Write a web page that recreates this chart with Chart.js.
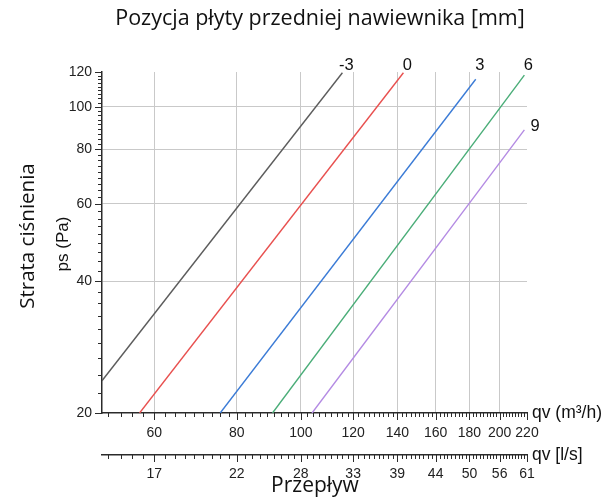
<!DOCTYPE html>
<html lang="pl">
<head>
  <meta charset="UTF-8">
  <title>Pozycja płyty przedniej nawiewnika</title>
  <script src="https://cdn.jsdelivr.net/npm/chart.js"></script>
  <style>
    body { margin: 0; background: #fff; }
  </style>
</head>
<body>
  <canvas id="chart" width="610" height="500"></canvas>

  <script>
    // plate positions [mm] and the end points of each characteristic (log-log straight lines)
    const positions = ['-3', '0', '3', '6', '9'];
    const qvStart = [50, 57, 75.5, 90.6, 104];
    const psStart = [23.7, 20, 20, 20, 20];
    const qvEnd = [115.6, 143, 184, 218, 218];
    const psEnd = [119.5, 119.5, 115.5, 118, 88.5];
    const lineColors = ['#5c5c5c', '#e8504f', '#3b7bd6', '#4aad78', '#b48be3'];

    // axis ticks
    const qvMajor = [60, 80, 100, 120, 140, 160, 180, 200, 220];
    const qvLabels = ['60', '80', '100', '120', '140', '160', '180', '200', '220'];
    const lsLabels = ['17', '22', '28', '33', '39', '44', '50', '56', '61'];
    const psMajor = [20, 40, 60, 80, 100, 120];
    const psLabels = ['20', '40', '60', '80', '100', '120'];

    // major ticks with 9 minor divisions between them
    function makeTicks(majors, labels, lo, factor) {
      const out = [];
      for (let i = 0; i < majors.length; i++) {
        out.push({ value: majors[i] * factor, major: true, lbl: labels[i] });
        if (i < majors.length - 1) {
          const step = (majors[i + 1] - majors[i]) / 9;
          for (let k = 1; k <= 8; k++) out.push({ value: (majors[i] + k * step) * factor, major: false });
        }
      }
      const step0 = (majors[1] - majors[0]) / 9;
      for (let k = 1; majors[0] - k * step0 > lo; k++) {
        out.push({ value: (majors[0] - k * step0) * factor, major: false });
      }
      return out.sort((a, b) => a.value - b.value);
    }

    const tickFont = { family: '"Liberation Sans", Arial, sans-serif', size: 14 };
    const axisColor = '#2b2b2b';
    const gridColor = '#c9c9c9';

    // tick marks, axis end labels, titles and line labels
    const decorPlugin = {
      id: 'decor',
      afterDraw(chart) {
        const ctx = chart.ctx;
        const area = chart.chartArea;
        ctx.save();
        ctx.strokeStyle = axisColor;
        ctx.lineWidth = 1;
        ctx.beginPath();
        ['x', 'x2'].forEach(id => {
          const s = chart.scales[id];
          s.ticks.forEach(t => {
            const px = Math.round(s.getPixelForValue(t.value)) + 0.5;
            ctx.moveTo(px, s.top);
            ctx.lineTo(px, s.top + (t.major ? 7 : 4));
          });
        });
        const sy = chart.scales.y;
        sy.ticks.forEach(t => {
          const py = Math.round(sy.getPixelForValue(t.value)) + 0.5;
          ctx.moveTo(sy.right, py);
          ctx.lineTo(sy.right - (t.major ? 7 : 4), py);
        });
        ctx.stroke();

        ctx.fillStyle = '#111';
        ctx.textBaseline = 'middle';
        ctx.textAlign = 'left';
        ctx.font = '17.5px "Liberation Sans", Arial, sans-serif';
        ctx.fillText('qv (m³/h)', chart.scales.x.right + 5, chart.scales.x.top);
        ctx.fillText('qv [l/s]', chart.scales.x2.right + 5, chart.scales.x2.top);

        // line labels at the end of each line
        ctx.font = '16.5px "Liberation Sans", Arial, sans-serif';
        chart.data.datasets.forEach((ds, i) => {
          const pt = chart.getDatasetMeta(i).data[1];
          if (pt.y < area.top + 15) {
            ctx.textAlign = 'center';
            ctx.fillText(ds.label, pt.x + 4, area.top - 7);
          } else {
            ctx.textAlign = 'left';
            ctx.fillText(ds.label, pt.x + 6, pt.y - 3);
          }
        });

        ctx.textAlign = 'center';
        ctx.font = '21.5px "Open Sans", "Noto Sans", sans-serif';
        ctx.fillText('Pozycja płyty przedniej nawiewnika [mm]', 320, 19);
        ctx.font = '21px "Open Sans", "Noto Sans", sans-serif';
        ctx.fillText('Przepływ', 315, 486);

        ctx.translate(28, 236);
        ctx.rotate(-Math.PI / 2);
        ctx.font = '20.5px "Open Sans", "Noto Sans", sans-serif';
        ctx.fillText('Strata ciśnienia', 0, 0);
        ctx.rotate(Math.PI / 2);
        ctx.translate(35, 8);
        ctx.rotate(-Math.PI / 2);
        ctx.font = '17px "Liberation Sans", Arial, sans-serif';
        ctx.fillText('ps (Pa)', 0, 0);
        ctx.restore();
      }
    };

    const datasets = positions.map((p, i) => ({
      label: p,
      data: [{ x: qvStart[i], y: psStart[i] }, { x: qvEnd[i], y: psEnd[i] }],
      borderColor: lineColors[i],
      borderWidth: 1.4,
      pointRadius: 0,
      fill: false,
      tension: 0
    }));

    new Chart(document.getElementById('chart'), {
      type: 'line',
      data: { datasets },
      options: {
        responsive: false,
        animation: false,
        layout: { padding: { top: 72, right: 83, bottom: 15, left: 0 } },
        plugins: {
          legend: { display: false },
          tooltip: { enabled: false },
          title: { display: false }
        },
        scales: {
          x: {
            type: 'logarithmic',
            position: 'bottom',
            weight: 0,
            min: 50,
            max: 220,
            afterBuildTicks: s => { s.ticks = makeTicks(qvMajor, qvLabels, 50, 1); },
            afterFit: s => { s.height = 42; },
            ticks: {
              autoSkip: false,
              maxRotation: 0,
              padding: 12,
              color: '#222',
              font: tickFont,
              callback: (v, i, ts) => ts[i].lbl || ''
            },
            grid: {
              drawTicks: false,
              color: c => (c.tick && c.tick.major && c.tick.value !== 220) ? gridColor : 'rgba(0,0,0,0)'
            },
            border: { color: axisColor, width: 1.5 }
          },
          x2: {
            type: 'logarithmic',
            position: 'bottom',
            weight: 1,
            min: 50 / 3.6,
            max: 220 / 3.6,
            afterBuildTicks: s => { s.ticks = makeTicks(qvMajor, lsLabels, 50, 1 / 3.6); },
            afterFit: s => { s.height = 30; },
            ticks: {
              autoSkip: false,
              maxRotation: 0,
              padding: 11,
              color: '#222',
              font: tickFont,
              callback: (v, i, ts) => ts[i].lbl || ''
            },
            grid: { display: false, drawTicks: false },
            border: { color: axisColor, width: 1.5 }
          },
          y: {
            type: 'logarithmic',
            position: 'left',
            min: 20,
            max: 120,
            afterBuildTicks: s => { s.ticks = makeTicks(psMajor, psLabels, 20, 1); },
            afterFit: s => { s.width = 102; },
            ticks: {
              autoSkip: false,
              padding: 10,
              color: '#222',
              font: tickFont,
              callback: (v, i, ts) => ts[i].lbl || ''
            },
            grid: {
              drawTicks: false,
              color: c => (c.tick && c.tick.major && c.tick.value !== 20 && c.tick.value !== 120) ? gridColor : 'rgba(0,0,0,0)'
            },
            border: { color: axisColor, width: 1.5 }
          }
        }
      },
      plugins: [decorPlugin]
    });
  </script>
</body>
</html>
